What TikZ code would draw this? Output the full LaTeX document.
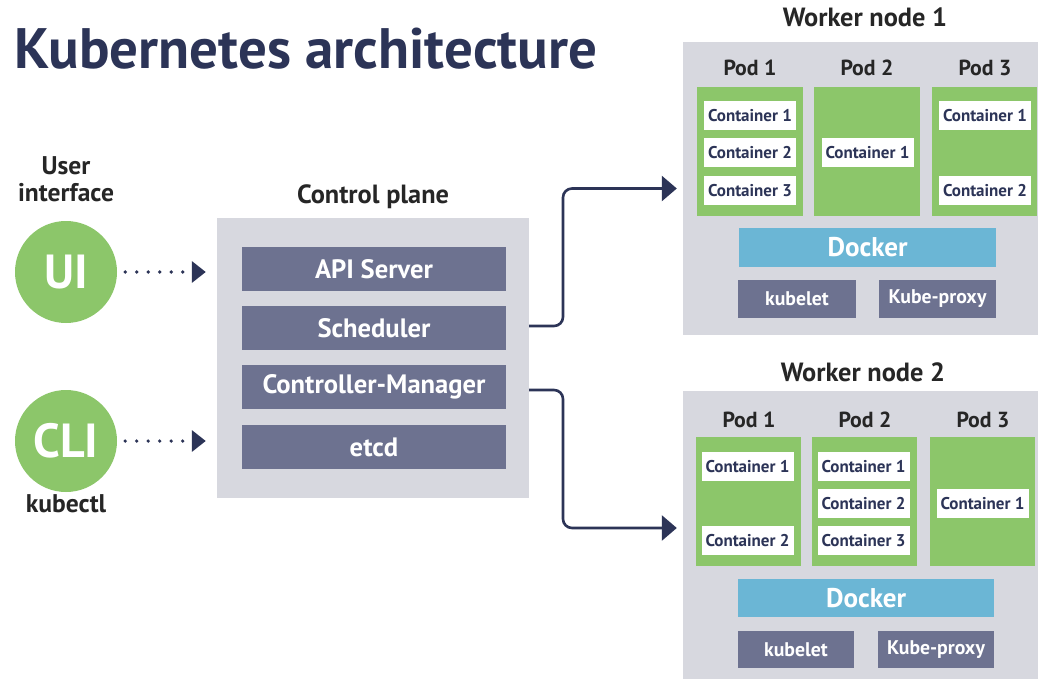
\documentclass[tikz,border=0pt]{standalone}
\usepackage{fontspec}
\setmainfont{PT Sans}
\usetikzlibrary{arrows.meta,calc}
\definecolor{navy}{HTML}{2C3457}
\definecolor{pgreen}{HTML}{8CC66A}
\definecolor{lgray}{HTML}{D7D8DF}
\definecolor{slate}{HTML}{6D7290}
\definecolor{dblue}{HTML}{6BB6D5}
\definecolor{dtext}{HTML}{262626}
\newlength\fitlen
\newcommand\mkfs[3]{\settowidth\fitlen{\bfseries\fontsize{10pt}{12pt}\selectfont #3}\pgfmathsetmacro#1{10*#2/\fitlen}}
\newcommand\usefs[1]{\fontsize{#1pt}{#1pt}\selectfont}
\begin{document}
\mkfs\fsTitle{583}{Kubernetes architecture}%
\mkfs\fsSide{96}{interface}%
\mkfs\fsCirc{65}{CLI}%
\mkfs\fsSec{152}{Control plane}%
\mkfs\fsPod{53}{Pod 1}%
\mkfs\fsBox{223}{Controller-Manager}%
\mkfs\fsK{98}{Kube-proxy}%
\mkfs\fsDock{80}{Docker}%
\mkfs\fsCont{84}{Container 1}%
\begin{tikzpicture}[x=1pt,y=-1pt,
  bgbox/.style={fill=lgray, draw=none, inner sep=0pt},
  mbox/.style={fill=slate, text=white, inner sep=0pt, font=\bfseries\usefs\fsBox},
  kbox/.style={fill=slate, text=white, inner sep=0pt, font=\bfseries\usefs\fsK},
  dockbox/.style={fill=dblue, text=white, inner sep=0pt, font=\bfseries\usefs\fsDock, minimum height=38pt},
  podbox/.style={fill=pgreen, inner sep=0pt, minimum height=129pt},
  cbox/.style={fill=white, text=navy, inner sep=0pt, minimum width=92pt, minimum height=29pt, font=\bfseries\usefs\fsCont},
  seclab/.style={text=dtext, anchor=base, inner sep=0pt, font=\bfseries\usefs\fsSec},
  podlab/.style={text=dtext, anchor=base, inner sep=0pt, font=\bfseries\usefs\fsPod},
  sidelab/.style={text=dtext, anchor=base, inner sep=0pt, font=\bfseries\usefs\fsSide},
  ucircle/.style={circle, fill=pgreen, text=white, inner sep=0pt, minimum size=102pt, font=\bfseries\usefs\fsCirc},
  dotarr/.style={navy, line width=3.6pt, line cap=round, dash pattern=on 0pt off 11.5pt, -{Triangle[length=14pt,width=21pt]}},
  conn/.style={navy, line width=2.6pt, rounded corners=9pt, -{Triangle[length=15pt,width=25pt]}}
]
\fill[white] (0,0) rectangle (1038,679);
\useasboundingbox (0,0) rectangle (1038,679);

% title
\node[anchor=base west, inner sep=0pt, text=navy, font=\bfseries\usefs\fsTitle] (title) at (14,69) {Kubernetes architecture};

% user side
\node[sidelab] (user) at (66,175) {User};
\node[sidelab] (iface) at (66,201) {interface};
\node[ucircle] (ui) at (66,272) {UI};
\node[ucircle] (cli) at (66,441) {CLI};
\node[sidelab] (kctl) at (66,512) {kubectl};

% control plane
\node[bgbox, minimum width=312pt, minimum height=280pt] (cp) at (373,358) {};
\node[seclab] (cplab) at (373,204) {Control plane};
\node[mbox, minimum width=264pt, minimum height=44pt] (api) at (374,269) {API Server};
\node[mbox, minimum width=264pt, minimum height=44pt] (sched) at (374,328) {Scheduler};
\node[mbox, minimum width=264pt, minimum height=44pt] (cm) at (374,387) {Controller-Manager};
\node[mbox, minimum width=264pt, minimum height=44pt] (etcd) at (374,447) {etcd};

\draw[dotarr, shorten <=8pt, shorten >=11pt] (ui) -- (ui -| cp.west);
\draw[dotarr, shorten <=8pt, shorten >=11pt] (cli) -- (cli -| cp.west);

% worker node 1
\node[bgbox, minimum width=355pt, minimum height=293pt] (w1) at (860.5,188.5) {};
\node[seclab] (w1lab) at (865,27) {Worker node 1};
\node[podlab] (w1p1l) at (750,76) {Pod 1};
\node[podlab] (w1p2l) at (867,76) {Pod 2};
\node[podlab] (w1p3l) at (985,76) {Pod 3};
\node[podbox, minimum width=106pt] (w1p1) at (750,151.5) {};
\node[podbox, minimum width=106pt] (w1p2) at (867,151.5) {};
\node[podbox, minimum width=105pt] (w1p3) at (984.5,151.5) {};
\node[cbox] (w1c11) at (750,115.5) {Container 1};
\node[cbox] (w1c12) at (750,152.5) {Container 2};
\node[cbox] (w1c13) at (750,190.5) {Container 3};
\node[cbox] (w1c21) at (867.5,152.5) {Container 1};
\node[cbox] (w1c31) at (985,115.5) {Container 1};
\node[cbox] (w1c32) at (985,190.5) {Container 2};
\node[dockbox, minimum width=257pt, minimum height=39pt] (w1d) at (867.5,247.5) {Docker};
\node[kbox, minimum width=118pt, minimum height=38pt] (w1k) at (797,299) {kubelet};
\node[kbox, minimum width=117pt, minimum height=38pt] (w1kp) at (937.5,299) {Kube-proxy};

% worker node 2
\node[bgbox, minimum width=355pt, minimum height=288pt] (w2) at (860.5,535) {};
\node[seclab] (w2lab) at (863,381) {Worker node 2};
\node[podlab] (w2p1l) at (749,427) {Pod 1};
\node[podlab] (w2p2l) at (865,427) {Pod 2};
\node[podlab] (w2p3l) at (983,427) {Pod 3};
\node[podbox, minimum width=105pt] (w2p1) at (748.5,501.5) {};
\node[podbox, minimum width=105pt] (w2p2) at (864.5,501.5) {};
\node[podbox, minimum width=105pt] (w2p3) at (982.5,501.5) {};
\node[cbox] (w2c11) at (747.5,466.5) {Container 1};
\node[cbox] (w2c12) at (747.5,540.5) {Container 2};
\node[cbox] (w2c21) at (863.5,466.5) {Container 1};
\node[cbox] (w2c22) at (863.5,503.5) {Container 2};
\node[cbox] (w2c23) at (863.5,540.5) {Container 3};
\node[cbox] (w2c31) at (982.5,503.5) {Container 1};
\node[dockbox, minimum width=256pt] (w2d) at (866,598) {Docker};
\node[kbox, minimum width=116pt, minimum height=37pt] (w2k) at (796,649.5) {kubelet};
\node[kbox, minimum width=116pt, minimum height=37pt] (w2kp) at (936,649.5) {Kube-proxy};

% connectors
\coordinate (s1) at ($(cp.east |- sched)+(0,-2)$);
\coordinate (s2) at ($(cp.east |- cm)+(0,3)$);
\coordinate (mx) at (563,0);
\coordinate (t2) at ($(w2.west)+(0,-7)$);
\draw[conn, shorten >=6pt] (s1) -- (s1 -| mx) -- (mx |- w1.west) -- (w1.west);
\draw[conn, shorten >=6pt] (s2) -- (s2 -| mx) -- (mx |- t2) -- (t2);
\end{tikzpicture}
\end{document}
